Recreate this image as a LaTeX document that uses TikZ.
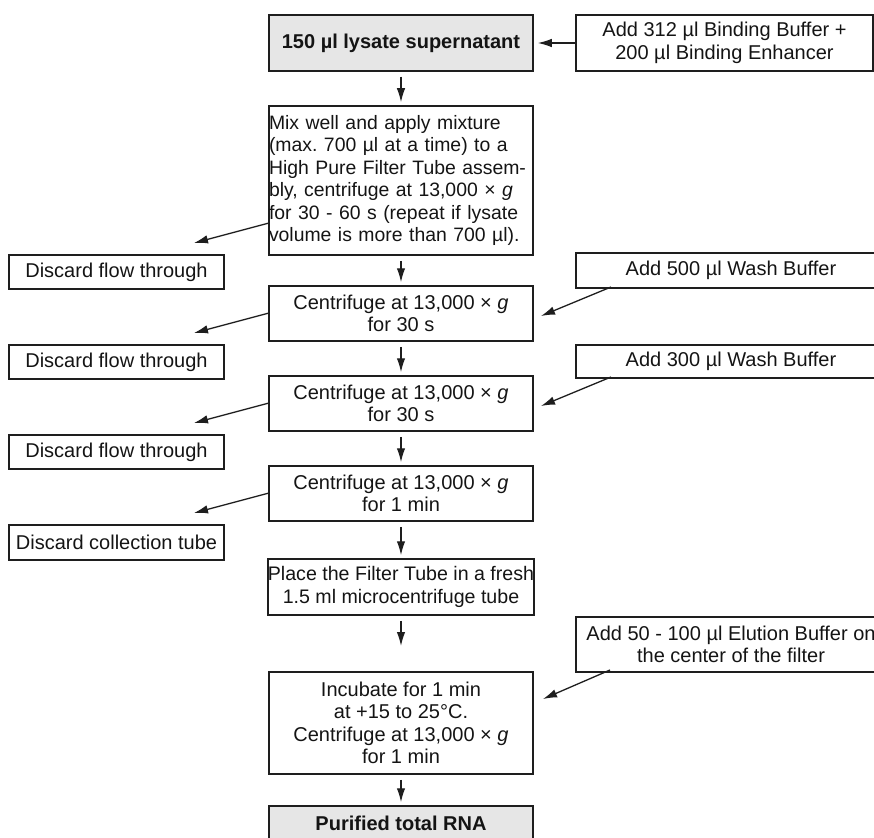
\documentclass[tikz,border=0pt]{standalone}
\usepackage{fontspec}
\setmainfont{Liberation Sans}
\usetikzlibrary{arrows.meta,calc}
\definecolor{linec}{HTML}{1E1E1E}
\definecolor{txt}{HTML}{141414}
\definecolor{graybg}{HTML}{E6E6E6}
\frenchspacing
\begin{document}
\begin{tikzpicture}[x=1pt,y=-1pt,
  box/.style={draw=linec,line width=1.5pt,inner sep=0pt,align=center,text=txt,
    font=\fontsize{20}{22.5}\selectfont},
  mainbox/.style={box,minimum width=264pt},
  discardbox/.style={box,minimum width=215pt,minimum height=34pt},
  sidebox/.style={box,minimum width=310pt},
  resultbox/.style={mainbox,fill=graybg,font=\bfseries\fontsize{20}{22.5}\selectfont},
  arr/.style={draw=linec,line width=1.3pt,-{Latex[length=14pt,width=8.5pt]}}]
\useasboundingbox (0,0) rectangle (874,837);

% main column
\node[resultbox,minimum height=56pt] (top) at (401,43) {150 µl lysate supernatant};
\node[mainbox,minimum height=149pt,align=left,text width=264pt,
  font=\fontsize{19.4}{22.5}\selectfont] (mix) at (401,180.5)
  {\mbox{Mix well and apply mixture}\\\mbox{(max. 700 µl at a time) to a}\\\mbox{High Pure Filter Tube assem-}\\\mbox{bly, centrifuge at 13,000 × \textit{g}}\\\mbox{for 30 - 60 s (repeat if lysate}\\\mbox{volume is more than 700 µl).}};
\node[mainbox,minimum height=55pt] (c1) at (401,313.5) {Centrifuge at 13,000 × \textit{g}\\for 30 s};
\node[mainbox,minimum height=55pt] (c2) at (401,403.5) {Centrifuge at 13,000 × \textit{g}\\for 30 s};
\node[mainbox,minimum height=55pt] (c3) at (401,493.5) {Centrifuge at 13,000 × \textit{g}\\for 1 min};
\node[mainbox,minimum height=56pt,font=\fontsize{19.6}{22.5}\selectfont] (place) at (401,587) {Place the Filter Tube in a fresh\\1.5 ml microcentrifuge tube};
\node[mainbox,minimum height=102pt] (inc) at (401,723) {Incubate for 1 min\\at +15 to 25°C.\\Centrifuge at 13,000 × \textit{g}\\for 1 min};
\node[resultbox,minimum height=34pt] (rna) at (401,823) {Purified total RNA};

% left column
\node[discardbox] (d1) at (116.5,272) {Discard flow through};
\node[discardbox] (d2) at (116.5,362) {Discard flow through};
\node[discardbox] (d3) at (116.5,452) {Discard flow through};
\node[discardbox,minimum height=35pt] (d4) at (116.5,542.5) {Discard collection tube};

% right column
\node[box,minimum width=297pt,minimum height=56pt] (add1) at (724.5,43) {Add 312 µl Binding Buffer +\\200 µl Binding Enhancer};
\node[sidebox,minimum height=35pt] (add2) at (731,270.5) {Add 500 µl Wash Buffer};
\node[sidebox,minimum height=33pt] (add3) at (731,361.5) {Add 300 µl Wash Buffer};
\node[sidebox,minimum height=55pt] (add4) at (731,644.5) {Add 50 - 100 µl Elution Buffer on\\the center of the filter};

% connector end points
\coordinate (s1) at (269,223);
\coordinate (t1) at (194,243);
\coordinate (s2) at (269,313);
\coordinate (t2) at (194,333);
\coordinate (s3) at (269,403);
\coordinate (t3) at (194,423);
\coordinate (s4) at (269,493);
\coordinate (t4) at (194,513);
\coordinate (r2) at (611,287);
\coordinate (e2) at (541,316);
\coordinate (r3) at (611,377);
\coordinate (e3) at (541,406);
\coordinate (r4) at (610,670);
\coordinate (e4) at (543,699);
\coordinate (pe) at (401,646);

% vertical flow
\draw[arr,shorten <=5pt,shorten >=3pt] (top) -- (mix);
\draw[arr,shorten <=5pt,shorten >=3pt] (mix) -- (c1);
\draw[arr,shorten <=5pt,shorten >=3pt] (c1) -- (c2);
\draw[arr,shorten <=5pt,shorten >=3pt] (c2) -- (c3);
\draw[arr,shorten <=5pt,shorten >=3pt] (c3) -- (place);
\draw[arr,shorten <=5pt] (place) -- (pe);
\draw[arr,shorten <=5pt,shorten >=3pt] (inc) -- (rna);

% side inputs
\draw[arr,shorten >=4pt] (add1) -- (top);
\draw[arr] (r2) -- (e2);
\draw[arr] (r3) -- (e3);
\draw[arr] (r4) -- (e4);

% discards
\draw[arr] (s1) -- (t1);
\draw[arr] (s2) -- (t2);
\draw[arr] (s3) -- (t3);
\draw[arr] (s4) -- (t4);
\end{tikzpicture}
\end{document}
